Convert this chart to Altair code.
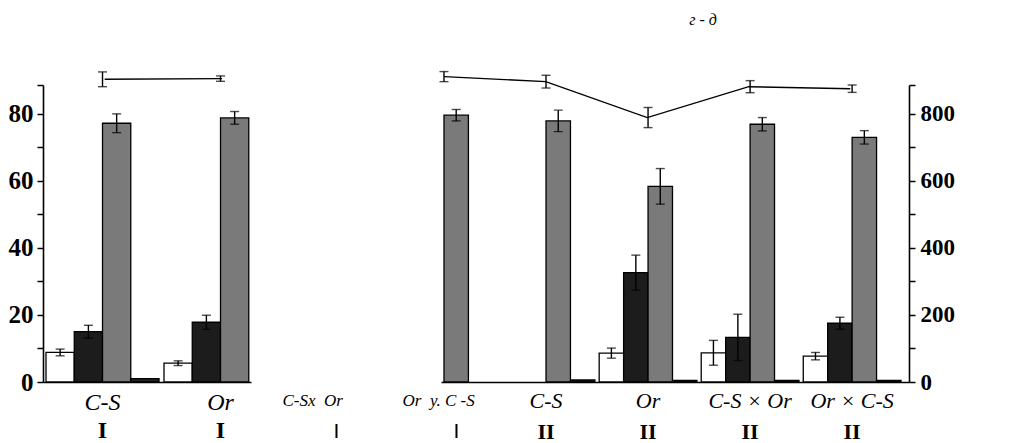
import altair as alt
import pandas as pd

# ---------------- data ----------------
group_names = ["C-S", "Or", "C-S × Or", "Or × C-S", "C-S", "Or", "C-S × Or", "Or × C-S"]
group_rounds = ["I", "I", "I", "I", "II", "II", "II", "II"]

white = [8.8, 5.6, None, None, None, 8.6, 8.7, 7.7]
white_err = [1.0, 0.7, None, None, None, 1.5, 3.7, 1.1]
black = [15.0, 17.8, None, None, None, 32.6, 13.3, 17.5]
black_err = [1.9, 2.1, None, None, None, 5.2, 6.9, 1.8]
grey = [77.1, 78.7, None, 79.5, 77.8, 58.3, 76.8, 72.9]
grey_err = [2.8, 1.9, None, 1.7, 3.2, 5.3, 2.0, 2.0]
fourth = [1.0, None, None, None, 0.6, 0.5, 0.5, 0.5]

line_vals = [902, 904, None, 910, 895, 788, 880, 874]
line_err = [22, 8, None, 15, 19, 30, 18, 11]

series = ["white", "black", "grey", "fourth"]
series_colors = ["#ffffff", "#1c1c1c", "#7a7a7a", "#222222"]

mid_names = ["C-Sx\u00a0\u00a0Or", "Or\u00a0\u00a0y.\u00a0C\u00a0-S"]
mid_rounds = ["I", "I"]

title_text = "г - д"

# ---------------- tables ----------------
keys = [f"{n}|{r}" for n, r in zip(group_names, group_rounds)]
mid_keys = [f"{n}|{r}" for n, r in zip(mid_names, mid_rounds)]
left_idx = [0, 1]
right_idx = [3, 4, 5, 6, 7]

vals = {"white": white, "black": black, "grey": grey, "fourth": fourth}
errs = {"white": white_err, "black": black_err, "grey": grey_err, "fourth": [None] * 8}


def tables(idx):
    bar_rows, err_rows, cap_rows, line_rows, lerr_rows, lcap_rows = [], [], [], [], [], []
    for i in idx:
        k = keys[i]
        for s in series:
            v = vals[s][i]
            if v is None:
                continue
            bar_rows.append({"key": k, "series": s, "value": v})
            e = errs[s][i]
            if e is not None:
                err_rows.append({"key": k, "series": s, "lo": v - e, "hi": v + e})
                cap_rows.append({"key": k, "series": s, "y": v - e})
                cap_rows.append({"key": k, "series": s, "y": v + e})
        lv, le = line_vals[i], line_err[i]
        if lv is not None:
            line_rows.append({"key": k, "v": lv})
            if le is not None:
                lerr_rows.append({"key": k, "lo": lv - le, "hi": lv + le})
                lcap_rows.append({"key": k, "y": lv - le})
                lcap_rows.append({"key": k, "y": lv + le})
    return [pd.DataFrame(t) for t in (bar_rows, err_rows, cap_rows, line_rows, lerr_rows, lcap_rows)]


# ---------------- styling ----------------
SERIF = "Liberation Serif"
W = 866          # plot area: left axis to right axis
H = 314
Y_RANGE = [H, 17]
PAD_INNER = 0.042


def xscale(rng):
    return alt.Scale(domain=keys, range=rng, paddingInner=PAD_INNER, paddingOuter=0)


def off_scale():
    return alt.Scale(domain=series, paddingInner=0, paddingOuter=0)


def ybar():
    return alt.Scale(domain=[0, 88.5], range=Y_RANGE)


def yline():
    return alt.Scale(domain=[0, 885], range=Y_RANGE)


def names_axis(shown, size):
    return alt.Axis(orient="bottom", values=shown, labelExpr="split(datum.value, '|')[0]",
                    labelFont=SERIF, labelFontStyle="italic", labelFontSize=size,
                    labelColor="black", labelPadding=8, ticks=False, domain=False,
                    labelAngle=0, labelOverlap=False, title=None, grid=False)


def rounds_axis(shown, size, pad):
    return alt.Axis(orient="bottom", values=shown, labelExpr="split(datum.value, '|')[1]",
                    labelFont=SERIF, labelFontWeight="bold", labelFontSize=size,
                    labelColor="black", labelPadding=pad, ticks=False, domain=False,
                    labelAngle=0, labelOverlap=False, title=None, grid=False)


left_y_axis = alt.Axis(orient="left", values=[0, 10, 20, 30, 40, 50, 60, 70, 80, 88.5],
                       labelExpr="datum.value % 20 == 0 ? datum.label : ''",
                       tickSize=6, tickWidth=1.5, tickColor="black",
                       domainColor="black", domainWidth=1.6,
                       labelFont=SERIF, labelFontSize=25, labelFontWeight="bold",
                       labelColor="black", labelPadding=4, grid=False, title=None)
right_y_axis = alt.Axis(orient="right", values=[0, 100, 200, 300, 400, 500, 600, 700, 800, 885],
                        labelExpr="datum.value % 200 == 0 ? datum.label : ''",
                        tickSize=6, tickWidth=1.5, tickColor="black",
                        domainColor="black", domainWidth=1.6,
                        labelFont=SERIF, labelFontSize=23, labelFontWeight="bold",
                        labelColor="black", labelPadding=5, grid=False, title=None)


def group_layers(idx, rng, shown, name_size, round_size, round_pad, yaxis_bar=None, yaxis_line=None):
    bars_df, err_df, cap_df, line_df, lerr_df, lcap_df = tables(idx)
    xs = xscale(rng)
    bars = alt.Chart(bars_df).mark_bar(stroke="black", strokeWidth=1.3).encode(
        x=alt.X("key:N", scale=xs, sort=keys, axis=names_axis(shown, name_size)),
        xOffset=alt.XOffset("series:N", scale=off_scale(), sort=series),
        y=alt.Y("value:Q", scale=ybar(), axis=yaxis_bar),
        fill=alt.Fill("series:N", scale=alt.Scale(domain=series, range=series_colors), legend=None),
    )
    rules = alt.Chart(err_df).mark_rule(color="black", strokeWidth=1.4).encode(
        x=alt.X("key:N", scale=xs, sort=keys, axis=rounds_axis(shown, round_size, round_pad)),
        xOffset=alt.XOffset("series:N", scale=off_scale(), sort=series),
        y=alt.Y("lo:Q", scale=ybar(), axis=None),
        y2="hi:Q",
    )
    caps = alt.Chart(cap_df).mark_tick(color="black", orient="horizontal", size=9,
                                       thickness=1.4).encode(
        x=alt.X("key:N", scale=xs, sort=keys, axis=None),
        xOffset=alt.XOffset("series:N", scale=off_scale(), sort=series),
        y=alt.Y("y:Q", scale=ybar(), axis=None),
    )
    line = alt.Chart(line_df).mark_line(color="black", strokeWidth=1.4).encode(
        x=alt.X("key:N", scale=xs, sort=keys, axis=None),
        y=alt.Y("v:Q", scale=yline(), axis=yaxis_line),
    )
    lrules = alt.Chart(lerr_df).mark_rule(color="black", strokeWidth=1.4).encode(
        x=alt.X("key:N", scale=xs, sort=keys, axis=None),
        y=alt.Y("lo:Q", scale=yline(), axis=None),
        y2="hi:Q",
    )
    lcaps = alt.Chart(lcap_df).mark_tick(color="black", orient="horizontal", size=9,
                                         thickness=1.4).encode(
        x=alt.X("key:N", scale=xs, sort=keys, axis=None),
        y=alt.Y("y:Q", scale=yline(), axis=None),
    )
    return [bars, rules, caps, line, lrules, lcaps]


# left block: plot-relative x 0..208 ; right block: 398..866
left_layers = group_layers(left_idx, [3, 942], [keys[i] for i in left_idx], 24, 24, 36,
                           yaxis_bar=left_y_axis)
right_layers = group_layers(right_idx, [46, 858], [keys[i] for i in [4, 5, 6, 7]], 22, 22, 39,
                            yaxis_line=right_y_axis)


# baselines (x-axis domain lines of the two scanned blocks)
def baseline(rng):
    return alt.Chart(pd.DataFrame({"t": [0, 1]})).mark_point(opacity=0).encode(
        x=alt.X("t:Q", scale=alt.Scale(domain=[0, 1], range=rng),
                axis=alt.Axis(orient="bottom", labels=False, ticks=False, grid=False, title=None,
                              domain=True, domainColor="black", domainWidth=1.6)),
        y=alt.Y("t:Q", scale=alt.Scale(domain=[0, 1], range=[H, H]), axis=None),
    )


base_left = baseline([0, 208])
base_right = baseline([398, 866])

# middle (labels only)
mid_df = pd.DataFrame({"key": mid_keys})
mscale = alt.Scale(type="point", domain=mid_keys, range=[293, 413], padding=0)
mid_names_layer = alt.Chart(mid_df).mark_point(opacity=0).encode(
    x=alt.X("key:N", scale=mscale, sort=mid_keys,
            axis=alt.Axis(orient="bottom", labelExpr="split(datum.value, '|')[0]",
                          labelFont=SERIF, labelFontStyle="italic", labelFontSize=17,
                          labelColor="black", labelAlign="left", labelOffset=-54,
                          labelPadding=10, ticks=False, domain=False, labelAngle=0,
                          labelOverlap=False, title=None, grid=False)),
    y=alt.Y("key:N", scale=alt.Scale(domain=mid_keys, range=[H, H], type="point"), axis=None),
)
mid_rounds_layer = alt.Chart(mid_df).mark_point(opacity=0).encode(
    x=alt.X("key:N", scale=mscale, sort=mid_keys,
            axis=alt.Axis(orient="bottom", labelExpr="split(datum.value, '|')[1]",
                          labelFont="Liberation Sans", labelFontSize=21,
                          labelColor="black", labelPadding=38, ticks=False, domain=False,
                          labelAngle=0, labelOverlap=False, title=None, grid=False)),
    y=alt.Y("key:N", scale=alt.Scale(domain=mid_keys, range=[H, H], type="point"), axis=None),
)

chart = alt.layer(
    *left_layers, *right_layers, base_left, base_right, mid_names_layer, mid_rounds_layer
).resolve_scale(
    x="independent", y="independent", xOffset="independent"
).resolve_axis(
    x="independent", y="independent"
).properties(
    width=W, height=H,
    padding={"left": 0, "top": 4, "right": 5, "bottom": 0},
    title=alt.TitleParams(title_text, font=SERIF, fontStyle="italic", fontSize=16,
                          fontWeight="normal", color="black", anchor="middle", dx=227, offset=40),
).configure(background="white").configure_view(stroke=None)

chart.save("out.html", embed_options={"renderer": "svg", "actions": False})
